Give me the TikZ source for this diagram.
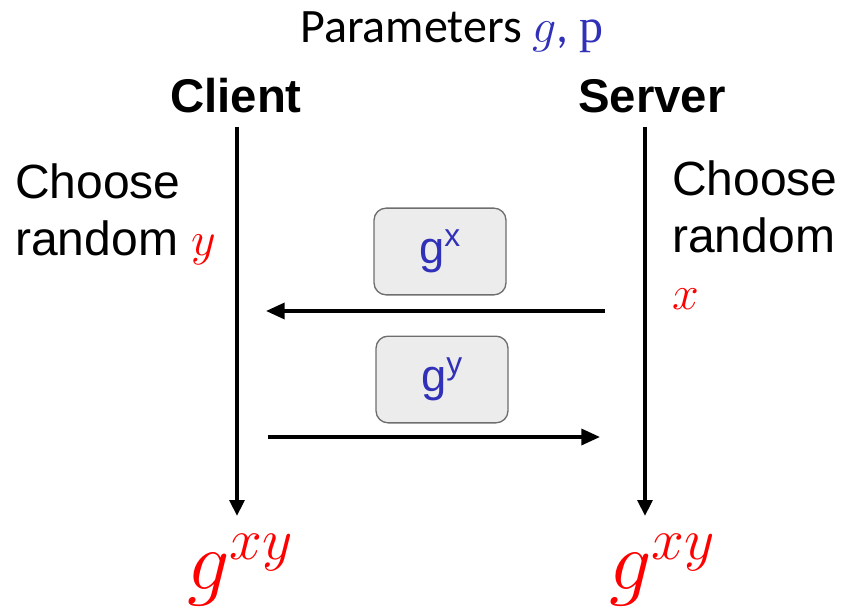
\RequirePackage{fix-cm}
\documentclass[tikz,border=0pt]{standalone}
\usepackage{fontspec}
\setmainfont{Liberation Sans}
\newfontfamily\calib{Carlito}
\newfontfamily\serifup{Liberation Serif}
\usetikzlibrary{arrows.meta}
\definecolor{mblue}{RGB}{48,48,184}
\definecolor{boxfill}{RGB}{236,236,236}
\definecolor{boxline}{RGB}{110,110,110}
\tikzset{
  party/.style={font=\bfseries\fontsize{35.5}{40}\selectfont, inner sep=0pt},
  lifeline/.style={line width=3pt, -{Triangle[length=12pt,width=11pt]}},
  msg/.style={line width=2.6pt, -{Triangle[length=14pt,width=12pt]}},
  msgbox/.style={draw=boxline, line width=1pt, fill=boxfill, rounded corners=9pt,
    minimum width=99pt, minimum height=65pt, inner sep=0pt,
    text=mblue, font=\fontsize{34}{40}\selectfont},
  note/.style={font=\fontsize{36}{43}\selectfont, align=left, inner sep=0pt},
  result/.style={text=red, font=\fontsize{63}{68}\selectfont, inner sep=0pt}
}
\begin{document}
\begin{tikzpicture}[x=0.75pt,y=-0.75pt]
\useasboundingbox (0,0) rectangle (866,609);
% header
\node[font=\calib\fontsize{36}{40}\selectfont, inner sep=0pt] (params) at (452,32)
  {Parameters \textcolor{mblue}{$g$, {\serifup p}}};
\node[party] (client) at (236,96) {Client};
\node[party] (server) at (652,96) {Server};
% lifelines
\coordinate (ctop) at (237,127);
\coordinate (cbot) at (237,516);
\coordinate (stop) at (645,127);
\coordinate (sbot) at (645,516);
\draw[lifeline] (ctop) -- (cbot);
\draw[lifeline] (stop) -- (sbot);
% choices
\node[note, anchor=north west] (cchoice) at (15,163)
  {Choose\\random \textcolor{red}{$y$}};
\node[note, anchor=north west] (schoice) at (672,160)
  {Choose\\random\\\textcolor{red}{$x$}};
% messages
\node[msgbox] (gx) at (440,251.5) {g\textsuperscript{x}};
\node[msgbox] (gy) at (442,379.5) {g\textsuperscript{y}};
\coordinate (m1s) at (605,311);
\coordinate (m1e) at (266,311);
\coordinate (m2s) at (268,437);
\coordinate (m2e) at (600,437);
\draw[msg] (m1s) -- (m1e);
\draw[msg] (m2s) -- (m2e);
% shared secret
\node[result] (ckey) at (240,570) {$g^{xy}$};
\node[result] (skey) at (662,570) {$g^{xy}$};
\end{tikzpicture}
\end{document}
